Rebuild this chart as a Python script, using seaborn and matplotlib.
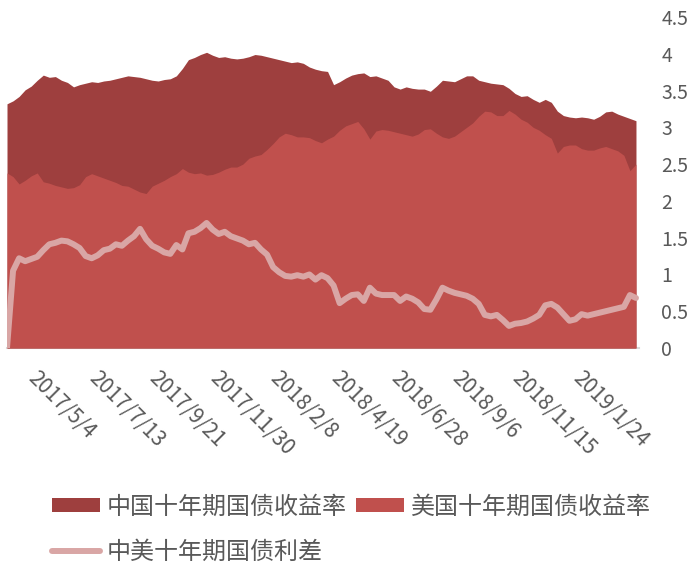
import numpy as np
import pandas as pd
import matplotlib
matplotlib.use('Agg')
import matplotlib.pyplot as plt
import matplotlib.transforms as mtransforms
from matplotlib.patches import Patch
from matplotlib.lines import Line2D
import seaborn as sns

# Données hebdomadaires (jeudi)
start_date = '2017-04-06'
n_weeks = 105

china_10y = [
    3.32, 3.36, 3.42, 3.51, 3.56, 3.64, 3.71, 3.68, 3.69, 3.64,
    3.61, 3.55, 3.58, 3.60, 3.62, 3.61, 3.63, 3.64, 3.66, 3.68,
    3.70, 3.69, 3.68, 3.66, 3.64, 3.63, 3.65, 3.66, 3.70, 3.80,
    3.92, 3.95, 3.99, 4.02, 3.98, 3.95, 3.96, 3.94, 3.93, 3.94,
    3.96, 3.99, 3.98, 3.96, 3.94, 3.92, 3.90, 3.88, 3.89, 3.87,
    3.82, 3.79, 3.77, 3.76, 3.58, 3.62, 3.67, 3.71, 3.73, 3.74,
    3.69, 3.70, 3.67, 3.64, 3.55, 3.52, 3.55, 3.53, 3.52, 3.52,
    3.49, 3.56, 3.64, 3.63, 3.62, 3.66, 3.70, 3.70, 3.64, 3.62,
    3.60, 3.59, 3.58, 3.53, 3.46, 3.42, 3.43, 3.38, 3.34, 3.38,
    3.34, 3.22, 3.16, 3.14, 3.13, 3.14, 3.13, 3.11, 3.15, 3.21,
    3.22, 3.18, 3.15, 3.12, 3.09,
]

us_10y = [
    2.38, 2.33, 2.23, 2.28, 2.34, 2.38, 2.26, 2.24, 2.21, 2.19,
    2.17, 2.18, 2.22, 2.33, 2.37, 2.34, 2.31, 2.28, 2.25, 2.21,
    2.20, 2.16, 2.12, 2.10, 2.20, 2.24, 2.28, 2.33, 2.37, 2.44,
    2.39, 2.37, 2.38, 2.35, 2.36, 2.39, 2.43, 2.46, 2.46, 2.50,
    2.58, 2.61, 2.63, 2.70, 2.78, 2.87, 2.92, 2.90, 2.87, 2.87,
    2.86, 2.82, 2.79, 2.84, 2.88, 2.96, 3.02, 3.05, 3.08, 2.98,
    2.84, 2.95, 2.97, 2.96, 2.94, 2.92, 2.90, 2.88, 2.91, 2.97,
    2.98, 2.92, 2.87, 2.85, 2.88, 2.94, 3.00, 3.06, 3.15, 3.22,
    3.21, 3.16, 3.16, 3.23, 3.18, 3.11, 3.07, 3.00, 2.96, 2.90,
    2.85, 2.65, 2.74, 2.76, 2.76, 2.71, 2.69, 2.69, 2.72, 2.74,
    2.71, 2.68, 2.62, 2.41, 2.50,
]

spread = [
    0.00, 1.05, 1.22, 1.18, 1.21, 1.24, 1.33, 1.41, 1.43, 1.46,
    1.45, 1.41, 1.36, 1.25, 1.22, 1.26, 1.33, 1.35, 1.41, 1.39,
    1.46, 1.52, 1.62, 1.48, 1.39, 1.35, 1.30, 1.28, 1.40, 1.34,
    1.56, 1.58, 1.63, 1.70, 1.61, 1.55, 1.58, 1.52, 1.49, 1.46,
    1.41, 1.43, 1.34, 1.27, 1.10, 1.03, 0.98, 0.97, 0.99, 0.97,
    1.00, 0.93, 0.99, 0.95, 0.85, 0.61, 0.67, 0.72, 0.73, 0.64,
    0.82, 0.74, 0.72, 0.72, 0.72, 0.64, 0.70, 0.67, 0.62, 0.53,
    0.52, 0.66, 0.82, 0.78, 0.75, 0.73, 0.71, 0.67, 0.60, 0.45,
    0.43, 0.45, 0.38, 0.30, 0.33, 0.34, 0.36, 0.40, 0.45, 0.58,
    0.60, 0.55, 0.46, 0.37, 0.39, 0.46, 0.44, 0.46, 0.48, 0.50,
    0.52, 0.54, 0.56, 0.72, 0.68,
]

xtick_labels = ['2017/5/4', '2017/7/13', '2017/9/21', '2017/11/30', '2018/2/8',
                '2018/4/19', '2018/6/28', '2018/9/6', '2018/11/15', '2019/1/24']
ytick_values = [0, 0.5, 1, 1.5, 2, 2.5, 3, 3.5, 4, 4.5]
ytick_labels = ['0', '0.5', '1', '1.5', '2', '2.5', '3', '3.5', '4', '4.5']

series_names = ['中国十年期国债收益率', '美国十年期国债收益率', '中美十年期国债利差']

df = pd.DataFrame({
    'date': pd.date_range(start_date, periods=n_weeks, freq='7D'),
    'china': china_10y,
    'us': us_10y,
    'spread': spread,
})

# Couleurs
c_china = '#9E3F3E'
c_us = '#C0504D'
c_spread = '#D9A6A5'
c_text = '#595959'

sns.set_theme(style='white')
plt.rcParams['font.family'] = ['Noto Sans CJK SC', 'DejaVu Sans']
plt.rcParams['axes.unicode_minus'] = False

fig = plt.figure(figsize=(6.92, 5.66), dpi=100)
ax = fig.add_axes([7 / 692, 218 / 566, 632 / 692, 331 / 566])

ax.fill_between(df['date'], 0, df['china'], color=c_china, linewidth=0)
ax.fill_between(df['date'], 0, df['us'], color=c_us, linewidth=0)
sns.lineplot(data=df, x='date', y='spread', ax=ax, color=c_spread,
             linewidth=4.3, solid_capstyle='round', legend=False)

ax.set_xlim(df['date'].iloc[0], df['date'].iloc[-1] + pd.Timedelta(days=3.5))
ax.set_ylim(0, 4.5)
ax.set_xlabel('')
ax.set_ylabel('')

for s in ['top', 'left', 'right']:
    ax.spines[s].set_visible(False)
ax.spines['bottom'].set_color('#D9D9D9')
ax.spines['bottom'].set_linewidth(1.5)
ax.spines['bottom'].set_zorder(0)

ax.yaxis.tick_right()
ax.set_yticks(ytick_values)
ax.set_yticklabels(ytick_labels)
ax.tick_params(axis='y', length=0, pad=16, labelsize=14, labelcolor=c_text)

ax.set_xticks(pd.to_datetime(xtick_labels, format='%Y/%m/%d'))
ax.set_xticklabels(xtick_labels, rotation=-45, ha='left', va='top',
                   rotation_mode='anchor')
ax.tick_params(axis='x', length=0, pad=14, labelsize=15, labelcolor=c_text)
# décalage des étiquettes vers la droite
shift = mtransforms.ScaledTranslation(6 / 72, 0, fig.dpi_scale_trans)
for lbl in ax.get_xticklabels():
    lbl.set_transform(lbl.get_transform() + shift)

handles = [
    Patch(facecolor=c_china, edgecolor='none', label=series_names[0]),
    Line2D([0], [0], color=c_spread, linewidth=4.3, solid_capstyle='round',
           label=series_names[2]),
    Patch(facecolor=c_us, edgecolor='none', label=series_names[1]),
]
leg = fig.legend(handles=handles, loc='upper left', bbox_to_anchor=(0.075, 0.128),
                 ncol=2, frameon=False, fontsize=17.3, handlelength=2.0,
                 handleheight=0.55, handletextpad=0.3, columnspacing=0.35,
                 labelspacing=0.8, borderpad=0, borderaxespad=0)
for t in leg.get_texts():
    t.set_color(c_text)

fig.savefig('out.png', dpi=100)
